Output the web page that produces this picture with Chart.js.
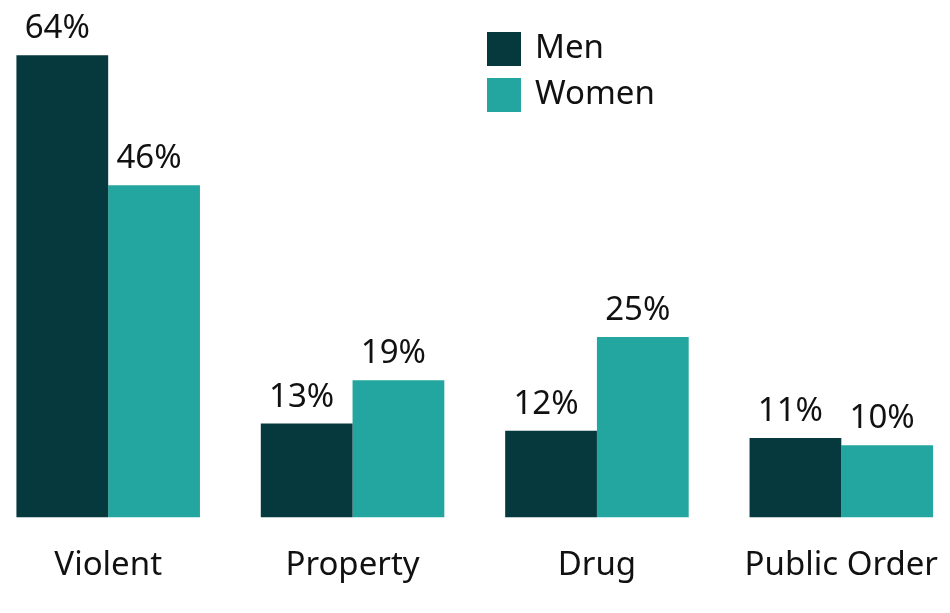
<!DOCTYPE html>
<html>
<head>
<meta charset="utf-8">
<script src="https://cdn.jsdelivr.net/npm/chart.js@4/dist/chart.umd.min.js"></script>
<style>
    html, body { margin: 0; padding: 0; background: #fff; overflow: hidden; }
    #wrap { width: 950px; height: 613px; overflow: hidden; position: relative; }
    #chart { position: absolute; left: -14px; top: 0; }
</style>
</head>
<body>
<div id="wrap"><canvas id="chart" width="980" height="613"></canvas></div>
<script>
const categories = ['Violent', 'Property', 'Drug', 'Public Order'];
const seriesNames = ['Men', 'Women'];
const menValues = [64, 13, 12, 11];
const womenValues = [46, 19, 25, 10];

const darkTeal = '#06393d';
const teal = '#23a69f';
const fontFamily = '"Noto Sans", "Open Sans", sans-serif';
const fontSize = 33;

// value labels above each bar
const barLabels = {
    id: 'barLabels',
    afterDatasetsDraw(chart) {
        const ctx = chart.ctx;
        ctx.save();
        ctx.font = fontSize + 'px ' + fontFamily;
        ctx.fillStyle = '#111';
        ctx.textAlign = 'center';
        ctx.textBaseline = 'alphabetic';
        chart.data.datasets.forEach((ds, i) => {
            chart.getDatasetMeta(i).data.forEach((bar, j) => {
                ctx.fillText(ds.data[j] + '%', bar.x - 5, bar.y - 17);
            });
        });
        ctx.restore();
    }
};

// square legend at the top, stacked vertically
const boxLegend = {
    id: 'boxLegend',
    afterDraw(chart) {
        const ctx = chart.ctx;
        ctx.save();
        ctx.font = fontSize + 'px ' + fontFamily;
        ctx.textBaseline = 'middle';
        ctx.textAlign = 'left';
        chart.data.datasets.forEach((ds, i) => {
            const top = 32 + i * 46;
            ctx.fillStyle = ds.backgroundColor;
            ctx.fillRect(501, top, 34, 34);
            ctx.fillStyle = '#111';
            ctx.fillText(ds.label, 549, top + 17);
        });
        ctx.restore();
    }
};

new Chart(document.getElementById('chart'), {
    type: 'bar',
    data: {
        labels: categories,
        datasets: [
            { label: seriesNames[0], data: menValues, backgroundColor: darkTeal },
            { label: seriesNames[1], data: womenValues, backgroundColor: teal }
        ]
    },
    options: {
        responsive: false,
        animation: false,
        layout: {
            padding: { top: 12, bottom: 0, left: 0, right: 0 }
        },
        plugins: {
            legend: { display: false },
            tooltip: { enabled: false }
        },
        datasets: {
            bar: {
                categoryPercentage: 0.751,
                barPercentage: 1.0
            }
        },
        scales: {
            x: {
                grid: { display: false, drawTicks: false },
                border: { display: false },
                ticks: {
                    color: '#111',
                    padding: 28,
                    font: { family: fontFamily, size: fontSize }
                }
            },
            y: {
                display: false,
                min: 0,
                max: 70
            }
        }
    },
    plugins: [barLabels, boxLegend]
});
</script>
</body>
</html>
